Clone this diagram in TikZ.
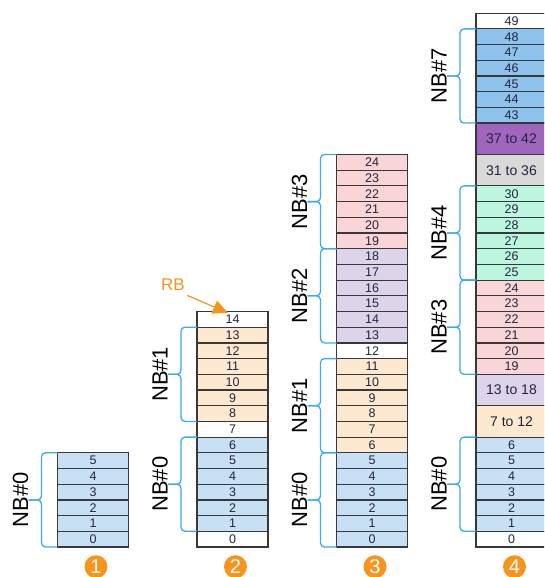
\documentclass[tikz,border=0pt]{standalone}
\usepackage{fontspec}
\setmainfont{Liberation Sans}
\usetikzlibrary{positioning, arrows.meta, calc}
\definecolor{nbzero}{RGB}{200,224,246}
\definecolor{nbone}{RGB}{253,233,207}
\definecolor{nbtwo}{RGB}{221,211,235}
\definecolor{nbthree}{RGB}{250,213,216}
\definecolor{nbfour}{RGB}{189,246,223}
\definecolor{nbseven}{RGB}{142,195,238}
\definecolor{blkpurple}{RGB}{160,102,190}
\definecolor{blkgray}{RGB}{217,217,217}
\definecolor{brblue}{RGB}{61,169,240}
\definecolor{numorange}{RGB}{247,148,29}
\definecolor{celltext}{RGB}{36,36,64}
\definecolor{cellline}{RGB}{56,56,56}
% brace on the left of a column, with its label
\newcommand\nbbrace[3]{%
  \draw[br] (#1.north west) -- ++(-16,0) |- ($(#1.north west)!0.5!(#2.south west)+(-29,0)$);
  \draw[br] (#2.south west) -- ++(-16,0) |- ($(#1.north west)!0.5!(#2.south west)+(-29,0)$);
  \node[nb] (l-#1) at ($(#1.north west)!0.5!(#2.south west)+(-37,0)$) {#3};}

\begin{document}
\begin{tikzpicture}[x=1pt,y=-1pt,
  cell/.style={draw=cellline,line width=1.2pt,anchor=south,outer sep=0pt,inner sep=0pt,
    minimum width=71pt,minimum height=15.7pt,text=celltext,font=\fontsize{12.5}{13}\selectfont},
  blk/.style={cell,minimum height=31.4pt,font=\fontsize{14}{15}\selectfont},
  br/.style={draw=brblue,line width=1.3pt,rounded corners=4pt},
  nb/.style={rotate=90,font=\fontsize{22}{24}\selectfont},
  num/.style={circle,fill=numorange,text=white,minimum size=23pt,inner sep=0pt,font=\fontsize{20}{20}\selectfont}]
  \clip (0,0) rectangle (544,577);
  \useasboundingbox (0,0) rectangle (544,577);
  \def\h{15.7}
  % column 1
  \foreach \i in {0,...,5} \node[cell,fill=nbzero] (c1-\i) at (93,547-\i*\h) {\i};
  % column 2
  \node[cell,fill=white] (c2-0) at (232.5,547) {0};
  \foreach \i in {1,...,6} \node[cell,fill=nbzero] (c2-\i) at (232.5,547-\i*\h) {\i};
  \node[cell,fill=white] (c2-7) at (232.5,547-7*\h) {7};
  \foreach \i in {8,...,13} \node[cell,fill=nbone] (c2-\i) at (232.5,547-\i*\h) {\i};
  \node[cell,fill=white] (c2-14) at (232.5,547-14*\h) {14};
  % column 3
  \foreach \i in {0,...,5} \node[cell,fill=nbzero] (c3-\i) at (372,547-\i*\h) {\i};
  \foreach \i in {6,...,11} \node[cell,fill=nbone] (c3-\i) at (372,547-\i*\h) {\i};
  \node[cell,fill=white] (c3-12) at (372,547-12*\h) {12};
  \foreach \i in {13,...,18} \node[cell,fill=nbtwo] (c3-\i) at (372,547-\i*\h) {\i};
  \foreach \i in {19,...,24} \node[cell,fill=nbthree] (c3-\i) at (372,547-\i*\h) {\i};
  % column 4
  \node[cell,fill=white] (c4-0) at (511.5,547) {0};
  \foreach \i in {1,...,6} \node[cell,fill=nbzero] (c4-\i) at (511.5,547-\i*\h) {\i};
  \node[blk,fill=nbone] (c4-b7) at (511.5,547-7*\h) {7 to 12};
  \node[blk,fill=nbtwo] (c4-b13) at (511.5,547-9*\h) {13 to 18};
  \foreach \i in {19,...,24} \node[cell,fill=nbthree] (c4-\i) at (511.5,547-\i*\h+8*\h) {\i};
  \foreach \i in {25,...,30} \node[cell,fill=nbfour] (c4-\i) at (511.5,547-\i*\h+8*\h) {\i};
  \node[blk,fill=blkgray] (c4-b31) at (511.5,547-23*\h) {31 to 36};
  \node[blk,fill=blkpurple] (c4-b37) at (511.5,547-25*\h) {37 to 42};
  \foreach \i in {43,...,48} \node[cell,fill=nbseven] (c4-\i) at (511.5,547-\i*\h+16*\h) {\i};
  \node[cell,fill=white] (c4-49) at (511.5,547-33*\h) {49};
  % braces
  \nbbrace{c1-5}{c1-0}{NB\#0}
  \nbbrace{c2-6}{c2-1}{NB\#0}
  \nbbrace{c2-13}{c2-8}{NB\#1}
  \nbbrace{c3-5}{c3-0}{NB\#0}
  \nbbrace{c3-11}{c3-6}{NB\#1}
  \nbbrace{c3-18}{c3-13}{NB\#2}
  \nbbrace{c3-24}{c3-19}{NB\#3}
  \nbbrace{c4-6}{c4-1}{NB\#0}
  \nbbrace{c4-24}{c4-19}{NB\#3}
  \nbbrace{c4-30}{c4-25}{NB\#4}
  \nbbrace{c4-48}{c4-43}{NB\#7}
  % step numbers
  \node[num,below=8pt of c1-0,xshift=3pt] (n1) {1};
  \node[num,below=8pt of c2-0,xshift=3pt] (n2) {2};
  \node[num,below=8pt of c3-0,xshift=3pt] (n3) {3};
  \node[num,below=8pt of c4-0,xshift=3pt] (n4) {4};
  % RB pointer
  \node[text=numorange,font=\fontsize{17}{17}\selectfont] (rb) at (173,285) {RB};
  \draw[numorange,line width=1.2pt,-{Triangle[length=15pt,width=14pt]}]
    ([xshift=-1pt,yshift=-1pt]rb.south east) -- ([xshift=-4.5pt,yshift=-1.5pt]c2-14.north);
\end{tikzpicture}
\end{document}
